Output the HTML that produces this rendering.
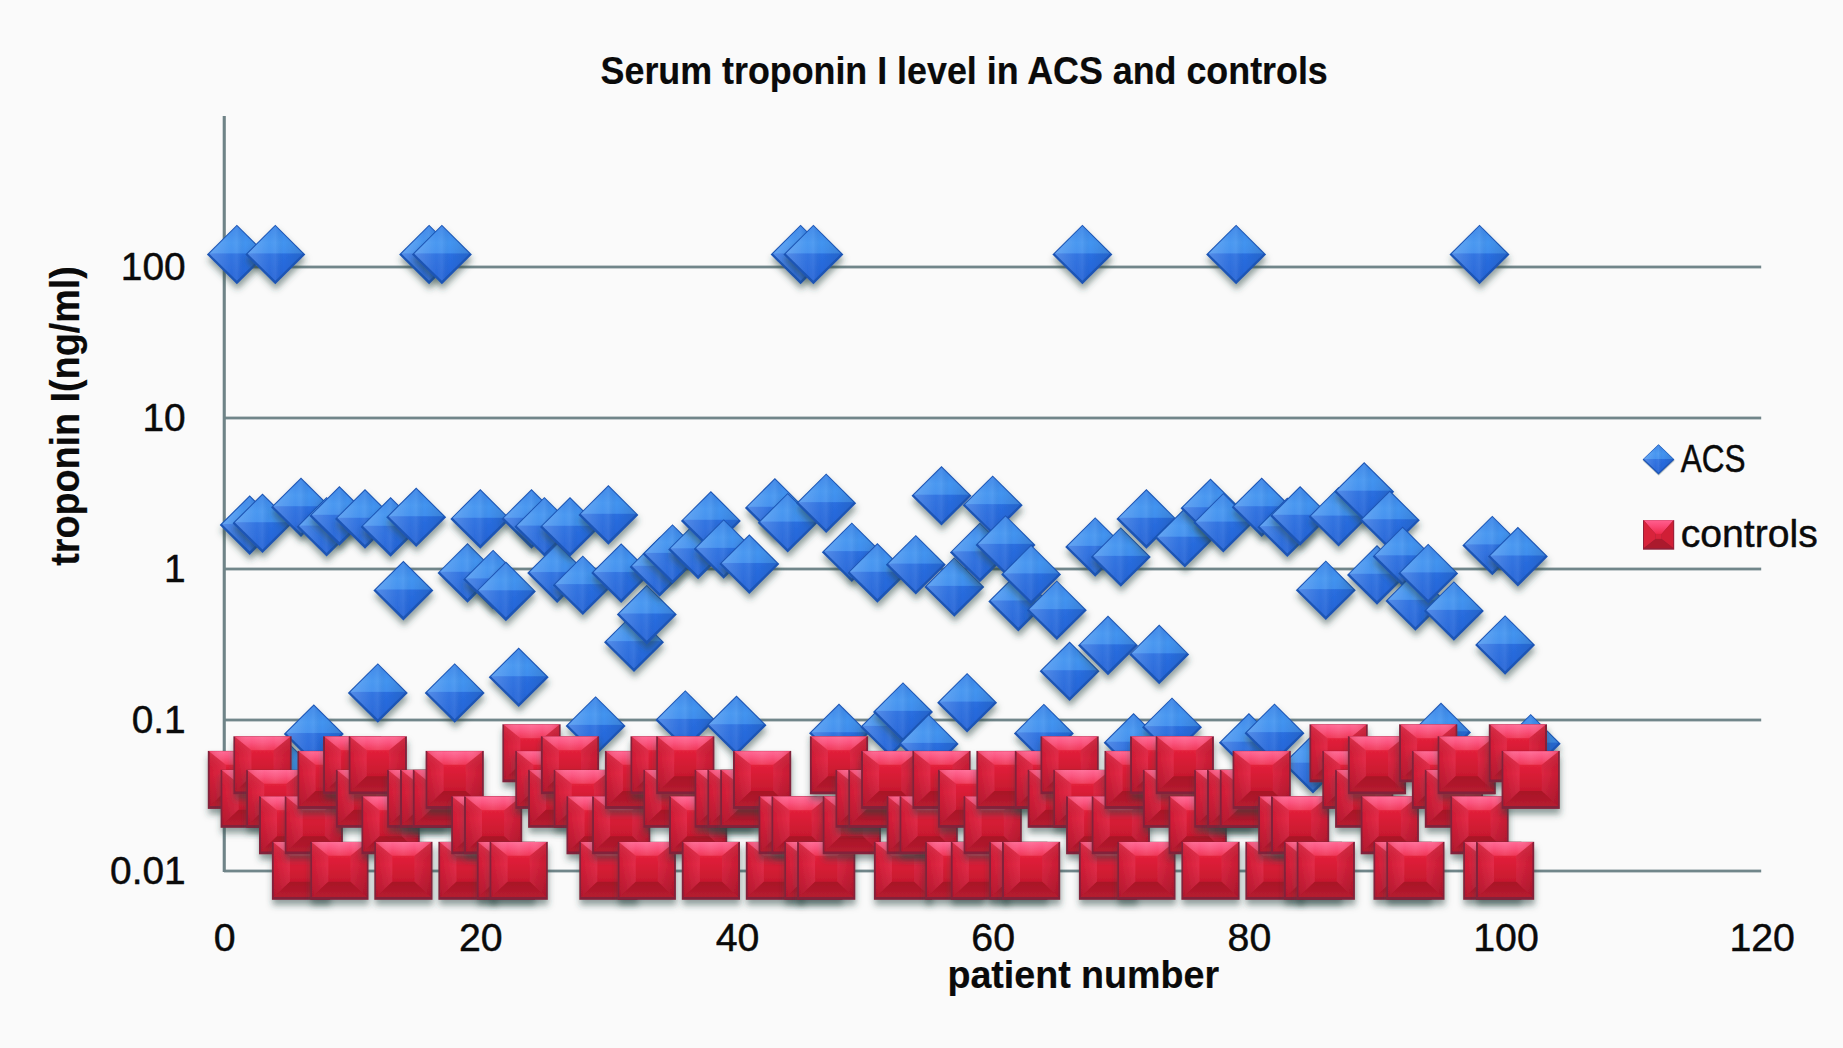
<!DOCTYPE html>
<html><head><meta charset="utf-8"><title>Serum troponin I level in ACS and controls</title>
<style>
html,body{margin:0;padding:0;background:#fafafa;}
body{width:1843px;height:1048px;overflow:hidden;position:relative;font-family:"Liberation Sans",sans-serif;}
svg{position:absolute;left:0;top:0;}
text{font-family:"Liberation Sans",sans-serif;fill:#0a0a0a;stroke:#0a0a0a;stroke-width:0.45px;}
.b{font-weight:bold;stroke-width:0.2px;}
</style></head><body>
<svg width="1843" height="1048" viewBox="0 0 1843 1048">
<defs>
<filter id="sh" x="-30%" y="-30%" width="160%" height="175%"><feDropShadow dx="0.6" dy="5.5" stdDeviation="3" flood-color="#2c4442" flood-opacity="0.5"/></filter>
<filter id="shs" x="-30%" y="-30%" width="160%" height="175%"><feDropShadow dx="0.4" dy="2" stdDeviation="1.4" flood-color="#2c4442" flood-opacity="0.4"/></filter>
<linearGradient id="dg" x1="0" y1="0" x2="0" y2="1">
<stop offset="0" stop-color="#3883e6"/><stop offset="0.3" stop-color="#4394f0"/><stop offset="0.49" stop-color="#3f8eee"/>
<stop offset="0.51" stop-color="#2a6fe0"/><stop offset="1" stop-color="#2262d6"/></linearGradient>
<linearGradient id="dv" x1="0" y1="0" x2="1" y2="0">
<stop offset="0" stop-color="#fff" stop-opacity="0.20"/><stop offset="0.4" stop-color="#fff" stop-opacity="0.04"/><stop offset="0.5" stop-color="#fff" stop-opacity="0.08"/><stop offset="0.65" stop-color="#000" stop-opacity="0"/><stop offset="1" stop-color="#000" stop-opacity="0.10"/></linearGradient>
<linearGradient id="rc" x1="0" y1="0" x2="0" y2="1"><stop offset="0" stop-color="#ee2846"/><stop offset="0.3" stop-color="#e01f39"/><stop offset="0.7" stop-color="#c8192f"/><stop offset="1" stop-color="#b6172a"/></linearGradient>
<linearGradient id="rt" x1="0" y1="0" x2="0" y2="1"><stop offset="0" stop-color="#ff5f8e"/><stop offset="0.45" stop-color="#fa4875"/><stop offset="1" stop-color="#ee2a4c"/></linearGradient>
<linearGradient id="rs" x1="0" y1="0" x2="0" y2="1"><stop offset="0" stop-color="#ee3a58"/><stop offset="0.45" stop-color="#d42039"/><stop offset="1" stop-color="#ae182a"/></linearGradient>
<linearGradient id="rfl" x1="0" y1="0" x2="1" y2="0"><stop offset="0" stop-color="#d21c36"/><stop offset="1" stop-color="#e42c49"/></linearGradient>
<linearGradient id="rfr" x1="0" y1="0" x2="1" y2="0"><stop offset="0" stop-color="#dc2642"/><stop offset="1" stop-color="#c81b33"/></linearGradient>
<linearGradient id="rfd" x1="0" y1="0" x2="0" y2="1"><stop offset="0" stop-color="#fff" stop-opacity="0.10"/><stop offset="0.4" stop-color="#000" stop-opacity="0"/><stop offset="1" stop-color="#000" stop-opacity="0.16"/></linearGradient>
<linearGradient id="rb" x1="0" y1="0" x2="0" y2="1"><stop offset="0" stop-color="#a81526"/><stop offset="1" stop-color="#b61b30"/></linearGradient>
<linearGradient id="rth" x1="0" y1="0" x2="1" y2="0"><stop offset="0" stop-color="#d01c35" stop-opacity="0.35"/><stop offset="0.3" stop-color="#fff" stop-opacity="0.06"/><stop offset="0.5" stop-color="#fff" stop-opacity="0.12"/><stop offset="0.7" stop-color="#fff" stop-opacity="0.06"/><stop offset="1" stop-color="#d01c35" stop-opacity="0.35"/></linearGradient>
<linearGradient id="rl" x1="0" y1="0" x2="1" y2="0"><stop offset="0" stop-color="#000" stop-opacity="0.10"/><stop offset="1" stop-color="#fff" stop-opacity="0.06"/></linearGradient>
<g id="D">
<polygon points="0,-29.8 30,0 0,29.8 -30,0" fill="#1c54b4"/>
<polygon points="0,-28.4 27.6,-0.8 0,26.2 -27.6,-0.8" fill="url(#dg)"/>
<polygon points="0,-28.4 27.6,-0.8 0,26.2 -27.6,-0.8" fill="url(#dv)"/>
</g>
<g id="S">
<rect x="-29.1" y="-29.0" width="58.2" height="58.0" fill="#82203a"/>
<rect x="-27.1" y="-28.6" width="54.2" height="54.6" fill="url(#rc)"/>
<polygon points="-27.1,-28.6 -11.100000000000001,-15.100000000000001 -11.100000000000001,11.0 -27.1,26.0" fill="url(#rfl)"/>
<polygon points="27.1,-28.6 27.1,26.0 11.100000000000001,11.0 11.100000000000001,-15.100000000000001" fill="url(#rfr)"/>
<polygon points="-27.1,-28.6 -11.100000000000001,-15.100000000000001 -11.100000000000001,11.0 -27.1,26.0" fill="url(#rfd)"/>
<polygon points="27.1,-28.6 27.1,26.0 11.100000000000001,11.0 11.100000000000001,-15.100000000000001" fill="url(#rfd)"/>
<polygon points="-27.900000000000002,-28.700000000000003 27.900000000000002,-28.700000000000003 11.100000000000001,-15.100000000000001 -11.100000000000001,-15.100000000000001" fill="url(#rt)"/>
<polygon points="-27.900000000000002,-28.700000000000003 27.900000000000002,-28.700000000000003 11.100000000000001,-15.100000000000001 -11.100000000000001,-15.100000000000001" fill="url(#rth)"/>
<polygon points="-27.1,26.0 -11.100000000000001,11.0 11.100000000000001,11.0 27.1,26.0" fill="url(#rb)"/>
</g>
<g id="LS">
<rect x="-15.6" y="-14.8" width="31.2" height="29.6" fill="#93203a"/>
<polygon points="-15,-14.6 15,-14.6 3,-1 -3,-1" fill="url(#rt)"/>
<polygon points="-14.6,-14.4 -3,-1 -3,4 -14.6,13" fill="#d8233b"/>
<polygon points="14.6,-14.4 14.6,13 3,4 3,-1" fill="#d01f36"/>
<polygon points="-14.6,13 -3,4 3,4 14.6,13" fill="#ab1a2d"/>
<rect x="-3" y="-1" width="6" height="5" fill="#d8233b"/>
</g>
</defs>
<rect width="1843" height="1048" fill="#fafafa"/>

<rect x="224" y="265.60" width="1537.2" height="2.8" fill="#71868a"/>
<rect x="224" y="416.60" width="1537.2" height="2.8" fill="#71868a"/>
<rect x="224" y="567.60" width="1537.2" height="2.8" fill="#71868a"/>
<rect x="224" y="718.60" width="1537.2" height="2.8" fill="#71868a"/>
<rect x="224" y="869.60" width="1537.2" height="2.8" fill="#71868a"/>
<rect x="222.7" y="116" width="3.1" height="756" fill="#6f8387"/>
<g>
<use href="#D" x="236.9" y="254.5" filter="url(#sh)"/>
<use href="#D" x="249.7" y="525.1" filter="url(#sh)"/>
<use href="#D" x="262.5" y="523.3" filter="url(#sh)"/>
<use href="#D" x="275.3" y="254.5" filter="url(#sh)"/>
<use href="#D" x="288.1" y="772.0" filter="url(#sh)"/>
<use href="#D" x="301.0" y="507.3" filter="url(#sh)"/>
<use href="#D" x="313.8" y="734.1" filter="url(#sh)"/>
<use href="#D" x="326.6" y="526.7" filter="url(#sh)"/>
<use href="#D" x="339.4" y="515.9" filter="url(#sh)"/>
<use href="#D" x="365.0" y="518.9" filter="url(#sh)"/>
<use href="#D" x="377.8" y="693.0" filter="url(#sh)"/>
<use href="#D" x="390.6" y="526.9" filter="url(#sh)"/>
<use href="#D" x="403.4" y="590.6" filter="url(#sh)"/>
<use href="#D" x="416.2" y="517.3" filter="url(#sh)"/>
<use href="#D" x="429.1" y="254.5" filter="url(#sh)"/>
<use href="#D" x="441.9" y="254.5" filter="url(#sh)"/>
<use href="#D" x="454.7" y="693.0" filter="url(#sh)"/>
<use href="#D" x="467.5" y="572.9" filter="url(#sh)"/>
<use href="#D" x="480.3" y="518.9" filter="url(#sh)"/>
<use href="#D" x="493.1" y="579.5" filter="url(#sh)"/>
<use href="#D" x="505.9" y="591.4" filter="url(#sh)"/>
<use href="#D" x="518.7" y="677.3" filter="url(#sh)"/>
<use href="#D" x="531.5" y="518.9" filter="url(#sh)"/>
<use href="#D" x="544.4" y="526.7" filter="url(#sh)"/>
<use href="#D" x="557.2" y="573.1" filter="url(#sh)"/>
<use href="#D" x="570.0" y="526.9" filter="url(#sh)"/>
<use href="#D" x="582.8" y="585.2" filter="url(#sh)"/>
<use href="#D" x="595.6" y="726.0" filter="url(#sh)"/>
<use href="#D" x="608.4" y="514.9" filter="url(#sh)"/>
<use href="#D" x="621.2" y="573.1" filter="url(#sh)"/>
<use href="#D" x="634.0" y="642.2" filter="url(#sh)"/>
<use href="#D" x="646.8" y="614.6" filter="url(#sh)"/>
<use href="#D" x="659.6" y="566.9" filter="url(#sh)"/>
<use href="#D" x="672.5" y="554.0" filter="url(#sh)"/>
<use href="#D" x="685.3" y="720.0" filter="url(#sh)"/>
<use href="#D" x="698.1" y="549.4" filter="url(#sh)"/>
<use href="#D" x="710.9" y="520.9" filter="url(#sh)"/>
<use href="#D" x="723.7" y="549.0" filter="url(#sh)"/>
<use href="#D" x="736.5" y="725.3" filter="url(#sh)"/>
<use href="#D" x="749.3" y="564.1" filter="url(#sh)"/>
<use href="#D" x="774.9" y="507.9" filter="url(#sh)"/>
<use href="#D" x="787.7" y="522.7" filter="url(#sh)"/>
<use href="#D" x="800.6" y="254.5" filter="url(#sh)"/>
<use href="#D" x="813.4" y="254.5" filter="url(#sh)"/>
<use href="#D" x="826.2" y="503.2" filter="url(#sh)"/>
<use href="#D" x="839.0" y="733.3" filter="url(#sh)"/>
<use href="#D" x="851.8" y="552.2" filter="url(#sh)"/>
<use href="#D" x="877.4" y="572.9" filter="url(#sh)"/>
<use href="#D" x="890.2" y="727.0" filter="url(#sh)"/>
<use href="#D" x="903.0" y="712.0" filter="url(#sh)"/>
<use href="#D" x="915.8" y="564.7" filter="url(#sh)"/>
<use href="#D" x="928.7" y="744.0" filter="url(#sh)"/>
<use href="#D" x="941.5" y="495.8" filter="url(#sh)"/>
<use href="#D" x="954.3" y="587.0" filter="url(#sh)"/>
<use href="#D" x="967.1" y="702.7" filter="url(#sh)"/>
<use href="#D" x="979.9" y="552.4" filter="url(#sh)"/>
<use href="#D" x="992.7" y="505.2" filter="url(#sh)"/>
<use href="#D" x="1005.5" y="545.0" filter="url(#sh)"/>
<use href="#D" x="1018.3" y="601.6" filter="url(#sh)"/>
<use href="#D" x="1031.1" y="574.5" filter="url(#sh)"/>
<use href="#D" x="1043.9" y="733.5" filter="url(#sh)"/>
<use href="#D" x="1056.8" y="610.2" filter="url(#sh)"/>
<use href="#D" x="1069.6" y="671.3" filter="url(#sh)"/>
<use href="#D" x="1082.4" y="254.5" filter="url(#sh)"/>
<use href="#D" x="1095.2" y="547.0" filter="url(#sh)"/>
<use href="#D" x="1108.0" y="645.4" filter="url(#sh)"/>
<use href="#D" x="1120.8" y="557.0" filter="url(#sh)"/>
<use href="#D" x="1133.6" y="742.8" filter="url(#sh)"/>
<use href="#D" x="1146.4" y="518.9" filter="url(#sh)"/>
<use href="#D" x="1159.2" y="654.4" filter="url(#sh)"/>
<use href="#D" x="1172.0" y="727.2" filter="url(#sh)"/>
<use href="#D" x="1184.8" y="537.8" filter="url(#sh)"/>
<use href="#D" x="1210.5" y="508.3" filter="url(#sh)"/>
<use href="#D" x="1223.3" y="522.7" filter="url(#sh)"/>
<use href="#D" x="1236.1" y="254.5" filter="url(#sh)"/>
<use href="#D" x="1248.9" y="742.8" filter="url(#sh)"/>
<use href="#D" x="1261.7" y="507.3" filter="url(#sh)"/>
<use href="#D" x="1274.5" y="733.2" filter="url(#sh)"/>
<use href="#D" x="1287.3" y="527.3" filter="url(#sh)"/>
<use href="#D" x="1300.1" y="515.9" filter="url(#sh)"/>
<use href="#D" x="1313.0" y="763.8" filter="url(#sh)"/>
<use href="#D" x="1325.8" y="590.2" filter="url(#sh)"/>
<use href="#D" x="1338.6" y="516.7" filter="url(#sh)"/>
<use href="#D" x="1364.2" y="491.8" filter="url(#sh)"/>
<use href="#D" x="1377.0" y="574.9" filter="url(#sh)"/>
<use href="#D" x="1389.8" y="520.3" filter="url(#sh)"/>
<use href="#D" x="1402.6" y="556.4" filter="url(#sh)"/>
<use href="#D" x="1415.4" y="601.0" filter="url(#sh)"/>
<use href="#D" x="1428.2" y="573.5" filter="url(#sh)"/>
<use href="#D" x="1441.0" y="732.4" filter="url(#sh)"/>
<use href="#D" x="1453.9" y="611.0" filter="url(#sh)"/>
<use href="#D" x="1479.5" y="254.5" filter="url(#sh)"/>
<use href="#D" x="1492.3" y="545.5" filter="url(#sh)"/>
<use href="#D" x="1505.1" y="645.0" filter="url(#sh)"/>
<use href="#D" x="1517.9" y="556.6" filter="url(#sh)"/>
<use href="#D" x="1530.7" y="743.7" filter="url(#sh)"/>
</g><g>
<use href="#S" x="236.9" y="779.9" filter="url(#sh)"/>
<use href="#S" x="249.7" y="798.8" filter="url(#sh)"/>
<use href="#S" x="262.5" y="765.3" filter="url(#sh)"/>
<use href="#S" x="275.3" y="798.8" filter="url(#sh)"/>
<use href="#S" x="288.1" y="825.3" filter="url(#sh)"/>
<use href="#S" x="301.0" y="870.8" filter="url(#sh)"/>
<use href="#S" x="313.8" y="825.3" filter="url(#sh)"/>
<use href="#S" x="326.6" y="779.9" filter="url(#sh)"/>
<use href="#S" x="339.4" y="870.8" filter="url(#sh)"/>
<use href="#S" x="352.2" y="765.3" filter="url(#sh)"/>
<use href="#S" x="365.0" y="798.8" filter="url(#sh)"/>
<use href="#S" x="377.8" y="765.3" filter="url(#sh)"/>
<use href="#S" x="390.6" y="825.3" filter="url(#sh)"/>
<use href="#S" x="403.4" y="870.8" filter="url(#sh)"/>
<use href="#S" x="416.2" y="798.8" filter="url(#sh)"/>
<use href="#S" x="429.1" y="798.8" filter="url(#sh)"/>
<use href="#S" x="441.9" y="798.8" filter="url(#sh)"/>
<use href="#S" x="454.7" y="779.9" filter="url(#sh)"/>
<use href="#S" x="467.5" y="870.8" filter="url(#sh)"/>
<use href="#S" x="480.3" y="825.3" filter="url(#sh)"/>
<use href="#S" x="493.1" y="825.3" filter="url(#sh)"/>
<use href="#S" x="505.9" y="870.8" filter="url(#sh)"/>
<use href="#S" x="518.7" y="870.8" filter="url(#sh)"/>
<use href="#S" x="531.5" y="753.3" filter="url(#sh)"/>
<use href="#S" x="544.4" y="779.9" filter="url(#sh)"/>
<use href="#S" x="557.2" y="798.8" filter="url(#sh)"/>
<use href="#S" x="570.0" y="765.3" filter="url(#sh)"/>
<use href="#S" x="582.8" y="798.8" filter="url(#sh)"/>
<use href="#S" x="595.6" y="825.3" filter="url(#sh)"/>
<use href="#S" x="608.4" y="870.8" filter="url(#sh)"/>
<use href="#S" x="621.2" y="825.3" filter="url(#sh)"/>
<use href="#S" x="634.0" y="779.9" filter="url(#sh)"/>
<use href="#S" x="646.8" y="870.8" filter="url(#sh)"/>
<use href="#S" x="659.6" y="765.3" filter="url(#sh)"/>
<use href="#S" x="672.5" y="798.8" filter="url(#sh)"/>
<use href="#S" x="685.3" y="765.3" filter="url(#sh)"/>
<use href="#S" x="698.1" y="825.3" filter="url(#sh)"/>
<use href="#S" x="710.9" y="870.8" filter="url(#sh)"/>
<use href="#S" x="723.7" y="798.8" filter="url(#sh)"/>
<use href="#S" x="736.5" y="798.8" filter="url(#sh)"/>
<use href="#S" x="749.3" y="798.8" filter="url(#sh)"/>
<use href="#S" x="762.1" y="779.9" filter="url(#sh)"/>
<use href="#S" x="774.9" y="870.8" filter="url(#sh)"/>
<use href="#S" x="787.7" y="825.3" filter="url(#sh)"/>
<use href="#S" x="800.6" y="825.3" filter="url(#sh)"/>
<use href="#S" x="813.4" y="870.8" filter="url(#sh)"/>
<use href="#S" x="826.2" y="870.8" filter="url(#sh)"/>
<use href="#S" x="839.0" y="765.3" filter="url(#sh)"/>
<use href="#S" x="851.8" y="825.3" filter="url(#sh)"/>
<use href="#S" x="864.6" y="798.8" filter="url(#sh)"/>
<use href="#S" x="877.4" y="798.8" filter="url(#sh)"/>
<use href="#S" x="890.2" y="779.9" filter="url(#sh)"/>
<use href="#S" x="903.0" y="870.8" filter="url(#sh)"/>
<use href="#S" x="915.8" y="825.3" filter="url(#sh)"/>
<use href="#S" x="928.7" y="825.3" filter="url(#sh)"/>
<use href="#S" x="941.5" y="779.9" filter="url(#sh)"/>
<use href="#S" x="954.3" y="870.8" filter="url(#sh)"/>
<use href="#S" x="967.1" y="798.8" filter="url(#sh)"/>
<use href="#S" x="979.9" y="870.8" filter="url(#sh)"/>
<use href="#S" x="992.7" y="825.3" filter="url(#sh)"/>
<use href="#S" x="1005.5" y="779.9" filter="url(#sh)"/>
<use href="#S" x="1018.3" y="870.8" filter="url(#sh)"/>
<use href="#S" x="1031.1" y="870.8" filter="url(#sh)"/>
<use href="#S" x="1043.9" y="779.9" filter="url(#sh)"/>
<use href="#S" x="1056.8" y="798.8" filter="url(#sh)"/>
<use href="#S" x="1069.6" y="765.3" filter="url(#sh)"/>
<use href="#S" x="1082.4" y="798.8" filter="url(#sh)"/>
<use href="#S" x="1095.2" y="825.3" filter="url(#sh)"/>
<use href="#S" x="1108.0" y="870.8" filter="url(#sh)"/>
<use href="#S" x="1120.8" y="825.3" filter="url(#sh)"/>
<use href="#S" x="1133.6" y="779.9" filter="url(#sh)"/>
<use href="#S" x="1146.4" y="870.8" filter="url(#sh)"/>
<use href="#S" x="1159.2" y="765.3" filter="url(#sh)"/>
<use href="#S" x="1172.0" y="798.8" filter="url(#sh)"/>
<use href="#S" x="1184.8" y="765.3" filter="url(#sh)"/>
<use href="#S" x="1197.7" y="825.3" filter="url(#sh)"/>
<use href="#S" x="1210.5" y="870.8" filter="url(#sh)"/>
<use href="#S" x="1223.3" y="798.8" filter="url(#sh)"/>
<use href="#S" x="1236.1" y="798.8" filter="url(#sh)"/>
<use href="#S" x="1248.9" y="798.8" filter="url(#sh)"/>
<use href="#S" x="1261.7" y="779.9" filter="url(#sh)"/>
<use href="#S" x="1274.5" y="870.8" filter="url(#sh)"/>
<use href="#S" x="1287.3" y="825.3" filter="url(#sh)"/>
<use href="#S" x="1300.1" y="825.3" filter="url(#sh)"/>
<use href="#S" x="1313.0" y="870.8" filter="url(#sh)"/>
<use href="#S" x="1325.8" y="870.8" filter="url(#sh)"/>
<use href="#S" x="1338.6" y="753.3" filter="url(#sh)"/>
<use href="#S" x="1351.4" y="779.9" filter="url(#sh)"/>
<use href="#S" x="1364.2" y="798.8" filter="url(#sh)"/>
<use href="#S" x="1377.0" y="765.3" filter="url(#sh)"/>
<use href="#S" x="1389.8" y="825.3" filter="url(#sh)"/>
<use href="#S" x="1402.6" y="870.8" filter="url(#sh)"/>
<use href="#S" x="1415.4" y="870.8" filter="url(#sh)"/>
<use href="#S" x="1428.2" y="753.3" filter="url(#sh)"/>
<use href="#S" x="1441.0" y="779.9" filter="url(#sh)"/>
<use href="#S" x="1453.9" y="798.8" filter="url(#sh)"/>
<use href="#S" x="1466.7" y="765.3" filter="url(#sh)"/>
<use href="#S" x="1479.5" y="825.3" filter="url(#sh)"/>
<use href="#S" x="1492.3" y="870.8" filter="url(#sh)"/>
<use href="#S" x="1505.1" y="870.8" filter="url(#sh)"/>
<use href="#S" x="1517.9" y="753.3" filter="url(#sh)"/>
<use href="#S" x="1530.7" y="779.9" filter="url(#sh)"/>
</g>
<g transform="translate(1658.5,459.4) scale(0.53,0.505)" filter="url(#shs)"><use href="#D"/></g>
<use href="#LS" x="1658.6" y="534.9"/>
<text transform="translate(1680.80,472.20) scale(0.8296,1)" font-size="38">ACS</text>
<text transform="translate(1680.77,547.00) scale(1.0301,1)" font-size="38">controls</text>
<text transform="translate(120.85,280.20) scale(1.0100,1)" font-size="38.5">100</text>
<text transform="translate(142.47,431.20) scale(1.0100,1)" font-size="38.5">10</text>
<text transform="translate(164.10,582.20) scale(1.0100,1)" font-size="38.5">1</text>
<text transform="translate(131.67,733.20) scale(1.0100,1)" font-size="38.5">0.1</text>
<text transform="translate(110.04,884.20) scale(1.0100,1)" font-size="38.5">0.01</text>
<text transform="translate(213.69,951.20) scale(1.0200,1)" font-size="38.5">0</text>
<text transform="translate(458.97,951.20) scale(1.0200,1)" font-size="38.5">20</text>
<text transform="translate(715.68,951.20) scale(1.0200,1)" font-size="38.5">40</text>
<text transform="translate(971.37,951.20) scale(1.0200,1)" font-size="38.5">60</text>
<text transform="translate(1227.57,951.20) scale(1.0200,1)" font-size="38.5">80</text>
<text transform="translate(1473.24,951.20) scale(1.0200,1)" font-size="38.5">100</text>
<text transform="translate(1729.44,951.20) scale(1.0200,1)" font-size="38.5">120</text>
<text class="b" transform="translate(600.56,84.30) scale(0.9431,1)" font-size="38">Serum troponin I level in ACS and controls</text>
<text class="b" transform="translate(947.42,987.80) scale(0.9898,1)" font-size="38">patient number</text>
<text class="b" transform="translate(78.6,565.80) rotate(-90) scale(0.9928,1.05)" font-size="38">troponin I(ng/ml)</text>
</svg></body></html>
